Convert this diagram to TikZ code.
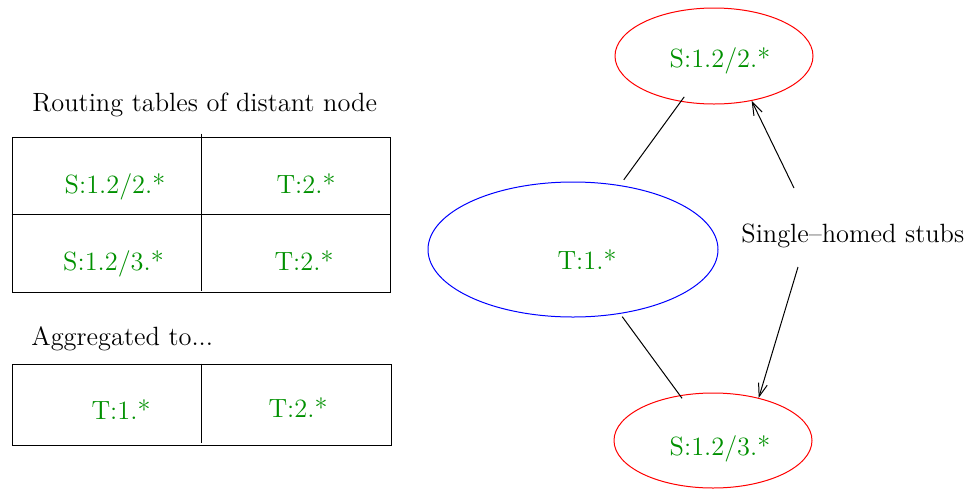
\documentclass[tikz,border=0pt]{standalone}
\usepackage{tikz}
\usetikzlibrary{positioning}
\usetikzlibrary{shapes}
\usetikzlibrary{arrows.meta}
\definecolor{mygreen}{RGB}{0,144,0}
\definecolor{myred}{RGB}{255,0,0}
\definecolor{myblue}{RGB}{0,0,255}
\tikzstyle{tablebox}=[rectangle, draw=black, line width=0.5pt, inner sep=0pt]
\tikzstyle{prefixnode}=[ellipse, line width=0.5pt, inner sep=0pt]
\tikzstyle{celltext}=[text=mygreen, anchor=base, inner sep=0pt]
\tikzstyle{titletext}=[text=black, anchor=base west, inner sep=0pt]
\tikzstyle{connect}=[line width=0.5pt, black]
\tikzstyle{connect arrow}=[-{Straight Barb[length=6.5pt,width=4.5pt]}, line width=0.5pt, black]

\begin{document}
\begin{tikzpicture}[
    x=0.5pt, y=-0.5pt,
    font=\fontsize{13.2}{16}\selectfont]

\useasboundingbox (0,0) rectangle (976,489);

% routing tables
\node[titletext] (tables_title) at (32,111) {Routing tables of distant node};
\node[tablebox, minimum width=189pt, minimum height=77.5pt] (tab1) at (201,214.5) {};
\draw[connect] (tab1.west) -- (tab1.east);
\draw[connect] ([yshift=1.5pt]tab1.north) -- ([yshift=1pt]tab1.south);

\node[celltext] (tab1_a) at (115,193) {S:1.2/2.*};
\node[celltext] (tab1_b) at (306,193) {T:2.*};
\node[celltext] (tab1_c) at (113.5,270) {S:1.2/3.*};
\node[celltext] (tab1_d) at (304,270) {T:2.*};

\node[titletext] (aggr_title) at (31,345) {Aggregated to...};
\node[tablebox, minimum width=189.5pt, minimum height=40.5pt] (tab2) at (201.5,404.5) {};
\draw[connect] (tab2.north) -- ([yshift=1.5pt]tab2.south);

\node[celltext] (tab2_a) at (121,419) {T:1.*};
\node[celltext] (tab2_b) at (298,417) {T:2.*};

% topology
\node[prefixnode, draw=myred, minimum width=99pt, minimum height=48pt] (stub_top) at (714,56) {};
\node[prefixnode, draw=myblue, minimum width=145pt, minimum height=67.5pt] (transit) at (573,249.5) {};
\node[prefixnode, draw=myred, minimum width=99pt, minimum height=47.5pt] (stub_bot) at (713,440.5) {};

\node[celltext] (stub_top_lbl) at ([xshift=3pt,yshift=-5.5pt]stub_top.center) {S:1.2/2.*};
\node[celltext] (transit_lbl) at ([xshift=7pt,yshift=-9.75pt]transit.center) {T:1.*};
\node[celltext] (stub_bot_lbl) at ([xshift=3.5pt,yshift=-7.25pt]stub_bot.center) {S:1.2/3.*};

\node[titletext] (stubs) at (741,242) {Single--homed stubs};
\coordinate (stubs_up) at (794,188);
\coordinate (stubs_down) at (798,267);

\draw[connect, shorten <=3.3pt, shorten >=-3pt] (transit) -- (stub_top);
\draw[connect, shorten <=1.7pt, shorten >=-1.9pt] (transit) -- (stub_bot);

\begin{scope}[connect arrow]
    \draw (stubs_up) -- (stub_top.-50);
    \draw (stubs_down) -- (stub_bot.43);
\end{scope}

\end{tikzpicture}
\end{document}
